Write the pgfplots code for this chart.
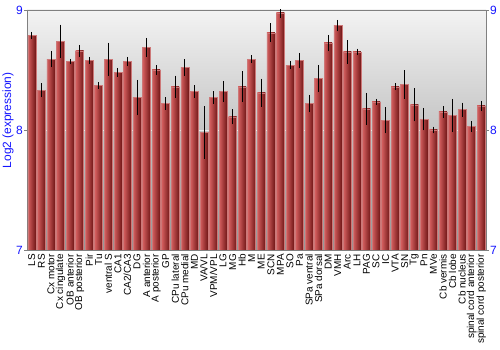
\documentclass[border=0pt]{standalone}
\usepackage{pgfplots}
\usepackage{pgfplotstable}
\pgfplotsset{compat=1.18}
\usepackage{fontspec}
\setmainfont{Liberation Sans}
\definecolor{tickblue}{RGB}{20,20,255}
\definecolor{barL}{RGB}{214,96,96}
\definecolor{barM}{RGB}{186,54,54}
\definecolor{barR}{RGB}{112,22,22}
\definecolor{barEdge}{RGB}{205,120,120}
\definecolor{bgTop}{RGB}{243,243,243}
\definecolor{bgBot}{RGB}{150,150,150}
\definecolor{axgray}{RGB}{128,128,128}

\pgfplotstableread{
x y err
0 8.79 0.01
1 8.33 0.04
2 8.59 0.05
3 8.74 0.12
4 8.57 0.005
5 8.66 0.03
6 8.58 0.01
7 8.37 0.01
8 8.59 0.12
9 8.48 0.02
10 8.57 0.02
11 8.27 0.13
12 8.69 0.06
13 8.50 0.02
14 8.22 0.035
15 8.36 0.075
16 8.52 0.05
17 8.32 0.035
18 7.98 0.2
19 8.27 0.035
20 8.32 0.07
21 8.11 0.045
22 8.36 0.11
23 8.59 0.015
24 8.31 0.1
25 8.81 0.06
26 8.975 0.02
27 8.54 0.015
28 8.58 0.045
29 8.22 0.055
30 8.43 0.095
31 8.725 0.05
32 8.87 0.03
33 8.65 0.08
34 8.65 0.01
35 8.175 0.115
36 8.235 0.005
37 8.08 0.09
38 8.36 0.01
39 8.38 0.1
40 8.21 0.12
41 8.09 0.075
42 8.00 0.01
43 8.15 0.03
44 8.12 0.12
45 8.17 0.04
46 8.03 0.025
47 8.20 0.025
}\datatable

\begin{document}
\begin{tikzpicture}
\useasboundingbox (0,0) rectangle (500bp,350bp);
\begin{axis}[
  at={(27bp,100bp)}, anchor=south west,
  scale only axis, width=459bp, height=240bp,
  xmin=-0.5, xmax=47.5, ymin=7, ymax=9,
  axis background/.style={top color=bgTop, bottom color=bgBot},
  axis line style={axgray},
  xtick={0,...,47},
  xticklabels={LS,RS,Cx motor,Cx cingulate,OB anterior,OB posterior,Pir,Tu,ventral S,CA1,CA2/CA3,DG,A anterior,A posterior,GP,CPu lateral,CPu medial,MD,VA/VL,VPM/VPL,LG,MG,Hb,M,ME,SCN,MPA,SO,Pa,SPa ventral,SPa dorsal,DM,VMH,Arc,LH,PAG,SC,IC,VTA,SN,Tg,Pn,MVe,Cb vermis,Cb lobe,Cb nucleus,spinal cord anterior,spinal cord posterior},
  xticklabel style={rotate=90, anchor=east, font=\fontsize{10}{12}\selectfont, text=black, inner sep=1bp},
  major x tick style={draw=none},
  ytick={7,8,9},
  ytick pos=left,
  tick align=outside,
  major tick length=3bp,
  y tick style={axgray},
  yticklabel style={font=\fontsize{12}{14}\selectfont, text=tickblue, inner sep=1bp},
  /pgf/number format/assume math mode=true,
  ymajorgrids, grid style={white, line width=0.8pt, opacity=0.7},
  ylabel={Log2 (expression)},
  every axis y label/.style={at={(axis description cs:0,0.54)}, xshift=-19bp, anchor=center, rotate=90, font=\fontsize{12}{14}\selectfont, text=tickblue},
  clip=true,
]
\pgfplotsinvokeforeach{0,...,47}{
\addplot[ybar, bar width=0.84, bar shift=0pt, draw=barEdge, line width=0.5pt,
  left color=barL, middle color=barM, right color=barR,
  restrict x to domain=#1:#1,
  error bars/.cd, y dir=both, y explicit,
  error bar style={black, line width=0.8pt},
  error mark options={black, line width=0.8pt, mark size=2.2bp}]
  table[x=x, y=y, y error=err] {\datatable};
}
\end{axis}
\begin{axis}[
  at={(27bp,100bp)}, anchor=south west,
  scale only axis, width=459bp, height=240bp,
  xmin=-0.5, xmax=47.5, ymin=7, ymax=9,
  axis x line=none, axis y line*=right,
  axis line style={axgray},
  ytick={7,8,9},
  tick align=outside,
  major tick length=3bp,
  y tick style={axgray},
  yticklabel style={font=\fontsize{12}{14}\selectfont, text=tickblue, inner sep=1bp},
  /pgf/number format/assume math mode=true,
]
\addplot[draw=none] coordinates {(0,8)};
\end{axis}
\end{tikzpicture}
\end{document}
